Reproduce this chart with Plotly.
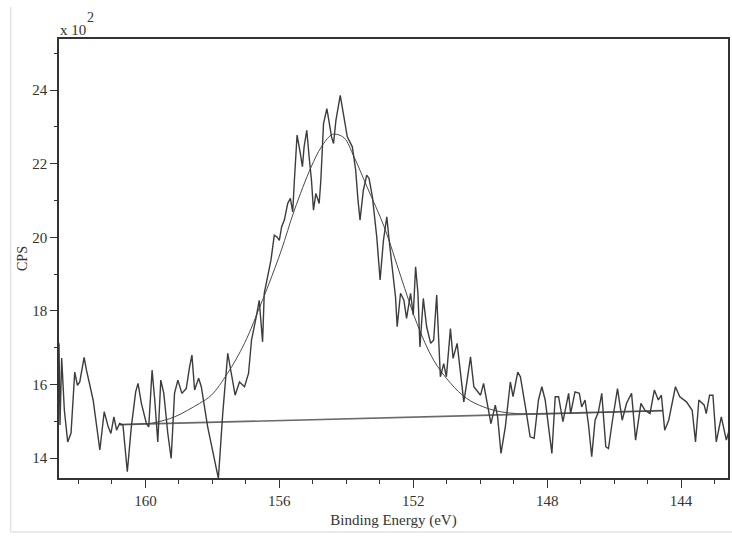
import plotly.graph_objects as go

# Measured spectrum (binding energy in eV, counts per second)
energy = [162.58, 162.55, 162.50, 162.42, 162.32, 162.22, 162.11, 162.03, 161.96, 161.83,
          161.76, 161.56, 161.36, 161.23, 161.11, 161.03, 160.94, 160.86, 160.77, 160.67,
          160.54, 160.42, 160.29, 160.22, 160.12, 159.97, 159.90, 159.80, 159.72, 159.63,
          159.54, 159.45, 159.33, 159.23, 159.13, 159.03, 158.91, 158.78, 158.68, 158.61,
          158.53, 158.41, 158.33, 158.14, 157.82, 157.69, 157.54, 157.44, 157.32, 157.19,
          157.04, 156.92, 156.83, 156.69, 156.60, 156.50, 156.45, 156.37, 156.25, 156.15,
          156.07, 156.00, 155.93, 155.85, 155.75, 155.67, 155.60, 155.55, 155.47, 155.38,
          155.31, 155.26, 155.18, 155.11, 155.04, 154.98, 154.91, 154.86, 154.81, 154.76,
          154.68, 154.58, 154.51, 154.44, 154.38, 154.31, 154.18, 154.07, 153.97, 153.82,
          153.72, 153.65, 153.59, 153.49, 153.39, 153.32, 153.22, 153.09, 152.99, 152.89,
          152.79, 152.72, 152.63, 152.53, 152.48, 152.38, 152.28, 152.20, 152.08, 152.00,
          151.93, 151.86, 151.80, 151.70, 151.60, 151.48, 151.39, 151.30, 151.24, 151.19,
          151.09, 151.01, 150.89, 150.81, 150.69, 150.59, 150.49, 150.39, 150.29, 150.19,
          150.10, 149.99, 149.90, 149.82, 149.68, 149.55, 149.48, 149.38, 149.25, 149.10,
          149.02, 148.88, 148.80, 148.65, 148.51, 148.39, 148.26, 148.16, 148.06, 147.86,
          147.76, 147.66, 147.53, 147.42, 147.36, 147.30, 147.17, 147.04, 146.97, 146.87,
          146.77, 146.67, 146.57, 146.47, 146.37, 146.25, 146.17, 146.05, 145.90, 145.76,
          145.63, 145.48, 145.36, 145.20, 145.08, 144.93, 144.80, 144.68, 144.59, 144.49,
          144.37, 144.17, 144.04, 143.84, 143.67, 143.57, 143.47, 143.31, 143.25, 143.15,
          143.05, 142.95, 142.80, 142.65, 142.58]
cps = [1712, 1490, 1672, 1530, 1444, 1468, 1634, 1598, 1607, 1674,
       1639, 1558, 1422, 1526, 1485, 1467, 1512, 1476, 1494, 1490,
       1363, 1485, 1580, 1603, 1549, 1494, 1485, 1639, 1558, 1444,
       1612, 1576, 1467, 1399, 1576, 1612, 1576, 1589, 1648, 1680,
       1585, 1617, 1594, 1485, 1345, 1521, 1685, 1630, 1571, 1607,
       1594, 1630, 1721, 1784, 1829, 1716, 1848, 1884, 1938, 2006,
       2001, 1992, 2029, 2047, 2092, 2106, 2069, 2155, 2278, 2232,
       2192, 2246, 2291, 2219, 2155, 2074, 2119, 2106, 2092, 2155,
       2309, 2350, 2309, 2273, 2255, 2318, 2386, 2327, 2273, 2246,
       2183, 2101, 2047, 2128, 2169, 2160, 2110, 2001, 1884, 1992,
       2056, 1992, 1924, 1838, 1757, 1848, 1829, 1780, 1848, 1789,
       1920, 1848, 1702, 1834, 1757, 1712, 1721, 1843, 1721, 1621,
       1657, 1621, 1752, 1671, 1712, 1639, 1553, 1612, 1675, 1594,
       1585, 1571, 1603, 1567, 1494, 1544, 1512, 1413, 1485, 1607,
       1567, 1634, 1621, 1539, 1458, 1454, 1558, 1594, 1558, 1413,
       1567, 1567, 1499, 1549, 1576, 1521, 1580, 1576, 1539, 1558,
       1494, 1404, 1503, 1526, 1576, 1431, 1426, 1503, 1589, 1503,
       1549, 1576, 1449, 1549, 1530, 1521, 1585, 1558, 1571, 1476,
       1503, 1594, 1567, 1553, 1530, 1444, 1558, 1544, 1521, 1571,
       1571, 1444, 1512, 1449, 1471]

# Fitted envelope
fit_energy = [160.77, 160.17, 159.81, 159.43, 159.13, 158.74, 158.38, 158.03, 157.55, 157.04,
              156.54, 156.30, 155.94, 155.55, 155.05, 154.75, 154.45, 154.30, 154.06, 153.77,
              153.38, 152.87, 152.37, 151.89, 151.39, 150.88, 150.40, 149.90, 149.39, 148.91,
              148.26, 146.47, 144.54]
fit_cps = [1491, 1493, 1495, 1503, 1512, 1530, 1549, 1571, 1630, 1712,
           1821, 1876, 1965, 2074, 2191, 2245, 2278, 2280, 2270, 2219,
           2137, 2029, 1893, 1766, 1666, 1603, 1562, 1539, 1526, 1521,
           1520, 1524, 1529]

# Linear background
bg_energy = [160.77, 144.54]
bg_cps = [1491, 1529]

y_tickvals = [1400, 1600, 1800, 2000, 2200, 2400]
y_ticktext = ["14", "16", "18", "20", "22", "24"]
y_minor = [1500, 1700, 1900, 2100, 2300, 2500]
x_tickvals = [160, 156, 152, 148, 144]
x_minor = [162, 161, 159, 158, 157, 155, 154, 153, 151, 150, 149, 147, 146, 145, 143]

line_col = "#3c3c3c"
font = "Liberation Serif, Times New Roman, serif"

fig = go.Figure()
fig.add_trace(go.Scatter(x=bg_energy, y=bg_cps, mode="lines",
                         line=dict(color="#6a6a6a", width=1.6), hoverinfo="skip"))
fig.add_trace(go.Scatter(x=fit_energy, y=fit_cps, mode="lines",
                         line=dict(color="#4a4a4a", width=1.0, shape="spline", smoothing=1.0)))
fig.add_trace(go.Scatter(x=energy, y=cps, mode="lines",
                         line=dict(color=line_col, width=1.4)))

fig.update_layout(
    width=732, height=536,
    margin=dict(l=59, r=2, t=39, b=58),
    paper_bgcolor="white", plot_bgcolor="white",
    showlegend=False,
    font=dict(family=font, size=15, color="#333"),
    xaxis=dict(
        range=[162.58, 142.60], autorange=False,
        tickmode="array", tickvals=x_tickvals,
        ticks="outside", ticklen=8, tickwidth=1.3, tickcolor="#333",
        showline=True, linecolor="#333", linewidth=1.5, mirror=True,
        showgrid=False, zeroline=False,
        minor=dict(tickmode="array", tickvals=x_minor, ticks="outside", ticklen=4,
                   tickwidth=1.2, tickcolor="#333", showgrid=False),
        title=dict(text="Binding Energy (eV)", standoff=7, font=dict(size=15)),
        tickfont=dict(size=15),
    ),
    yaxis=dict(
        range=[1346, 2539], autorange=False,
        tickmode="array", tickvals=y_tickvals, ticktext=y_ticktext,
        ticks="outside", ticklen=7, tickwidth=1.3, tickcolor="#333",
        showline=True, linecolor="#333", linewidth=1.5, mirror=True,
        showgrid=False, zeroline=False,
        minor=dict(tickmode="array", tickvals=y_minor, ticks="outside", ticklen=3,
                   tickwidth=1.2, tickcolor="#333", showgrid=False),
        title=dict(text="CPS", standoff=1, font=dict(size=14)),
        tickfont=dict(size=15),
    ),
    annotations=[
        dict(text="x 10", xref="paper", yref="paper",
             x=-0.002, y=1.0, xanchor="left", yanchor="bottom", yshift=-1,
             showarrow=False, font=dict(size=15, family=font, color="#333")),
        dict(text="2", xref="paper", yref="paper",
             x=0.039, y=1.0, xanchor="left", yanchor="bottom", yshift=12,
             showarrow=False, font=dict(size=14, family=font, color="#333")),
    ],
    shapes=[
        dict(type="line", xref="paper", yref="paper", x0=-0.0723, x1=-0.0723,
             y0=-0.123, y1=1.073, line=dict(color="#e2e2e2", width=1.5)),
        dict(type="line", xref="paper", yref="paper", x0=-0.0723, x1=1.01,
             y0=-0.123, y1=-0.123, line=dict(color="#e2e2e2", width=1.5)),
    ],
)

fig.write_html("out.html")
